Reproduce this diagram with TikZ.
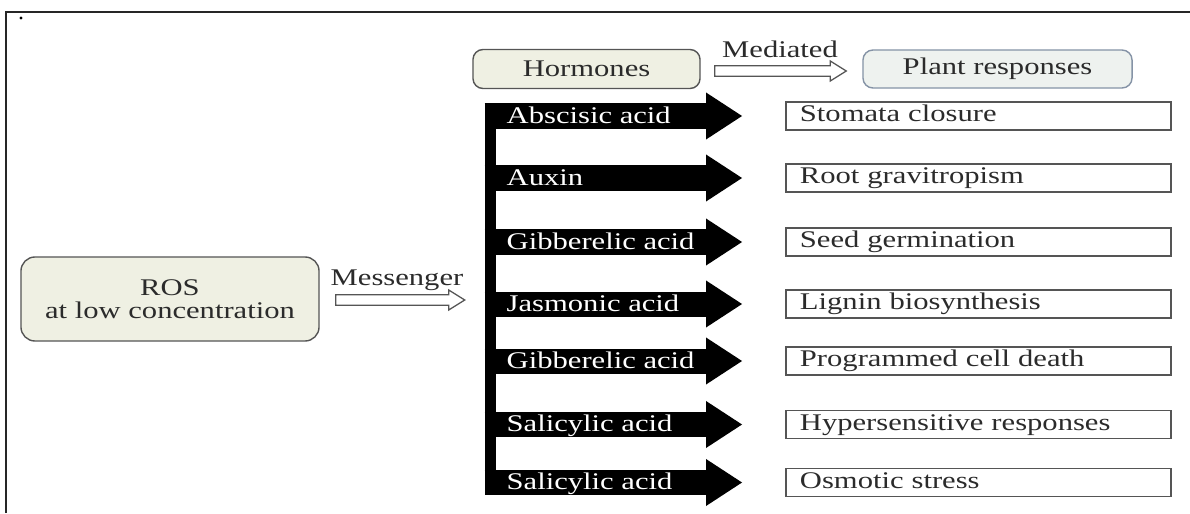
\documentclass[tikz,border=0pt]{standalone}
\usepackage{fontspec}
\setmainfont{Liberation Serif}[FakeStretch=1.28]
\usetikzlibrary{arrows.meta,positioning,calc}
\definecolor{rosfill}{HTML}{EFF0E3}
\definecolor{plantfill}{HTML}{EEF2EF}
\definecolor{plantdraw}{HTML}{8593A6}
\definecolor{boxdraw}{HTML}{555555}
\definecolor{txt}{HTML}{2B2B2B}

\begin{document}
\begin{tikzpicture}[
    x=0.025cm, y=-0.025cm,
    every node/.style={font=\fontsize{17}{20}\selectfont, text=txt},
    key/.style={draw=boxdraw, line width=1pt, rounded corners=0.35cm, fill=rosfill, align=center},
    resp/.style={draw=boxdraw, line width=1.3pt, minimum width=9.625cm, minimum height=0.7cm, text width=8.925cm, inner xsep=0.35cm, inner ysep=0pt, align=left, text height=11.5pt, text depth=3.5pt},
    harrow/.style={line width=0.625cm, shorten >=1.075cm, -{Triangle[length=0.9cm, width=1.175cm, line width=0pt]}},
    hlbl/.style={text=white, anchor=west, outer sep=0pt, inner xsep=0.55cm, text height=12pt, text depth=1.5pt},
    hollow/.style={draw=boxdraw, line width=0.9pt, fill=white, line join=miter,
        to path={let \p1=(\tikztostart), \p2=(\tikztotarget) in
            (\x1,\y1-0.13cm) -- (\x2-0.4cm,\y1-0.13cm) -- (\x2-0.4cm,\y1-0.25cm) -- (\x2,\y1)
            -- (\x2-0.4cm,\y1+0.25cm) -- (\x2-0.4cm,\y1+0.13cm) -- (\x1,\y1+0.13cm) -- cycle}},
    lbl/.style={anchor=base, inner sep=0pt}
]
\useasboundingbox (0,0) rectangle (1190,513);
\draw[line width=1.5pt, black!85] (6,513) -- (6,12) -- (1190,12);
\fill (21,18) circle (0.04cm);

\node[key, minimum width=7.45cm, minimum height=2.1cm] (ros) at (170,299) {ROS\\[-4pt]at low concentration};
\node[key, minimum width=5.675cm, minimum height=0.975cm, rounded corners=0.25cm] (horm) at (586.5,69) {Hormones};
\node[key, fill=plantfill, draw=plantdraw, minimum width=6.725cm, minimum height=0.95cm, rounded corners=0.25cm] (plant) at (997.5,69) {Plant responses};
\node[fill=black, minimum width=0.275cm, minimum height=9.8cm, inner sep=0pt] (bar) at (490.5,299) {};

\node[resp] (r1) at (978.5,116) {Stomata closure};
\node[resp] (r2) at (978.5,178) {Root gravitropism};
\node[resp] (r3) at (978.5,242) {Seed germination};
\node[resp] (r4) at (978.5,304) {Lignin biosynthesis};
\node[resp] (r5) at (978.5,361) {Programmed cell death};
\node[resp] (r6) at (978.5,424.5) {Hypersensitive responses};
\node[resp] (r7) at (978.5,482.5) {Osmotic stress};

\draw[hollow] ($(ros.east)+(16,1)$) to ($(bar.west)+(-20,1)$);
\node[lbl] (msg) at (397,285) {Messenger};
\draw[hollow] ($(horm.east)+(14,2)$) to ($(plant.west)+(-16,2)$);
\node[lbl] (med) at (780,57) {Mediated};

\draw[harrow] (bar.west |- r1) -- (r1.west) node[pos=0, hlbl] {Abscisic acid};
\draw[harrow] (bar.west |- r2) -- (r2.west) node[pos=0, hlbl] {Auxin};
\draw[harrow] (bar.west |- r3) -- (r3.west) node[pos=0, hlbl] {Gibberelic acid};
\draw[harrow] (bar.west |- r4) -- (r4.west) node[pos=0, hlbl] {Jasmonic acid};
\draw[harrow] (bar.west |- r5) -- (r5.west) node[pos=0, hlbl] {Gibberelic acid};
\draw[harrow] (bar.west |- r6) -- (r6.west) node[pos=0, hlbl] {Salicylic acid};
\draw[harrow] (bar.west |- r7) -- (r7.west) node[pos=0, hlbl] {Salicylic acid};
\end{tikzpicture}
\end{document}
